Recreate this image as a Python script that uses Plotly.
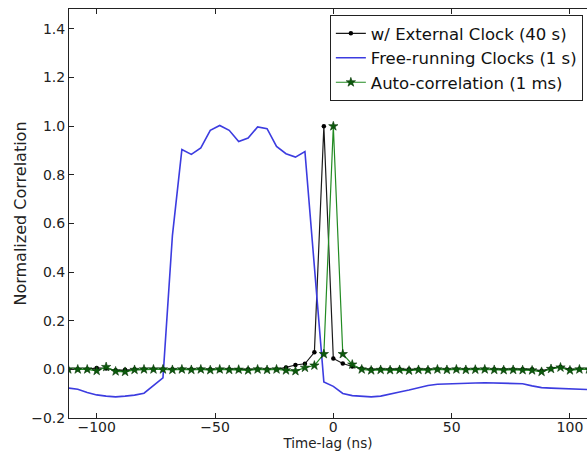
import plotly.graph_objects as go

# ---------------- data ----------------
lag_grid = [-112, -108, -104, -100, -96, -92, -88, -84, -80, -76, -72, -68, -64, -60,
            -56, -52, -48, -44, -40, -36, -32, -28, -24, -20, -16, -12, -8, -4, 0,
            4, 8, 12, 16, 20, 24, 28, 32, 36, 40, 44, 48, 52, 56, 60, 64, 68, 72,
            76, 80, 84, 88, 92, 96, 100, 104, 108, 112]

external_clock = [0.0, 0.0, 0.0, 0.006, 0.004, -0.004, -0.002, 0.0, 0.0, 0.0, 0.0, 0.0,
                  0.0, 0.0, 0.0, 0.0, -0.003, 0.0, -0.003, 0.0, 0.0, 0.0, 0.0, 0.008,
                  0.018, 0.023, 0.070, 1.0, 0.045, 0.024, 0.012, 0.004, 0.0, 0.0, 0.0,
                  0.0, 0.0, 0.0, 0.0, 0.0, 0.0, 0.0, 0.0, 0.0, 0.0, 0.0, 0.0, 0.0, 0.0,
                  0.0, -0.006, 0.004, 0.010, 0.0, 0.0, 0.0, 0.0]

auto_corr = [0.0, 0.0, 0.0, -0.006, 0.010, -0.008, -0.010, -0.002, 0.0, 0.0, 0.0, -0.002,
             0.0, -0.002, 0.0, -0.003, 0.0, -0.002, -0.001, -0.004, 0.0, -0.002, 0.0,
             -0.004, -0.007, 0.007, 0.016, 0.063, 1.0, 0.063, 0.020, 0.0, -0.004, -0.002,
             -0.003, -0.002, -0.005, -0.002, -0.003, 0.0, -0.002, 0.0, -0.002, -0.001,
             0.0, -0.002, -0.003, -0.002, -0.003, -0.004, -0.010, 0.002, 0.008, -0.004,
             0.0, 0.0, 0.0]

free_lag = [-112, -108, -104, -100, -96, -92, -88, -84, -80, -76, -72, -68, -64, -60,
            -56, -52, -48, -44, -40, -36, -32, -28, -24, -20, -16, -12, -4, 0,
            4, 8, 12, 16, 20, 24, 28, 32, 36, 40, 44, 48, 52, 56, 60, 64, 68, 72,
            76, 80, 84, 88, 92, 96, 100, 104, 108, 112]
free_running = [-0.077, -0.082, -0.095, -0.105, -0.110, -0.113, -0.110, -0.106, -0.098,
                -0.066, -0.035, 0.55, 0.904, 0.884, 0.911, 0.983, 1.003, 0.983, 0.937,
                0.951, 0.997, 0.990, 0.917, 0.887, 0.873, 0.896, -0.052, -0.070,
                -0.099, -0.108, -0.112, -0.113, -0.110, -0.103, -0.093, -0.085, -0.075,
                -0.066, -0.061, -0.059, -0.058, -0.057, -0.056, -0.055, -0.056, -0.057,
                -0.058, -0.059, -0.068, -0.075, -0.077, -0.079, -0.081, -0.083, -0.084,
                -0.085]

names = ["w/ External Clock (40 s)", "Free-running Clocks (1 s)", "Auto-correlation (1 ms)"]

x_tickvals = [-100, -50, 0, 50, 100]
x_ticktext = ["\u2212100", "\u221250", "0", "50", "100"]
y_tickvals = [-0.2, 0.0, 0.2, 0.4, 0.6, 0.8, 1.0, 1.2, 1.4]
y_ticktext = ["\u22120.2", "0.0", "0.2", "0.4", "0.6", "0.8", "1.0", "1.2", "1.4"]

FONT = "DejaVu Sans, Arial, sans-serif"

fig = go.Figure()
fig.add_trace(go.Scatter(
    x=lag_grid, y=external_clock, name=names[0], mode="lines+markers",
    line=dict(color="#1a1a1a", width=1.2),
    marker=dict(symbol="circle", size=4.5, color="#000000"),
    legendgroup="a",
))
fig.add_trace(go.Scatter(
    x=free_lag, y=free_running, name=names[1], mode="lines",
    line=dict(color="#3c3ce0", width=1.6),
    legendgroup="b",
))
fig.add_trace(go.Scatter(
    x=lag_grid, y=auto_corr, name=names[2], mode="lines+markers",
    line=dict(color="#228b22", width=1.2),
    marker=dict(symbol="star", size=7, color="#0c5a0c",
                line=dict(color="#063806", width=0.6)),
    legendgroup="c",
))

axis_common = dict(
    showgrid=False, zeroline=False, showline=True, linecolor="#222222", linewidth=1,
    ticks="inside", ticklen=5, tickcolor="#222222", tickwidth=1,
    tickfont=dict(family=FONT, size=14, color="#222222"),
)

fig.update_xaxes(
    range=[-111.7, 107.2], tickvals=x_tickvals, ticktext=x_ticktext, mirror="ticks",
    ticklabelstandoff=-4,
    title=dict(text="Time-lag (ns)", font=dict(family=FONT, size=13.5, color="#222222"),
               standoff=0),
    **axis_common,
)
fig.update_yaxes(
    range=[-0.2, 1.482], tickvals=y_tickvals, ticktext=y_ticktext, mirror=False,
    title=dict(text="Normalized Correlation", font=dict(family=FONT, size=16, color="#222222"),
               standoff=0),
    **axis_common,
)

fig.update_layout(
    width=587, height=457,
    margin=dict(l=69, r=0, t=9, b=39),
    paper_bgcolor="white", plot_bgcolor="white",
    font=dict(family=FONT, color="#222222"),
    legend=dict(
        x=0.992, y=0.985, xanchor="right", yanchor="top",
        bordercolor="#222222", borderwidth=1, bgcolor="white",
        font=dict(family=FONT, size=16.5, color="#111111"),
        tracegroupgap=0, traceorder="grouped",
    ),
    showlegend=True,
)

fig.write_html(
    "out.html",
    config={"displayModeBar": False},
    post_script="document.body.style.margin='0';document.body.style.overflow='hidden';",
)
